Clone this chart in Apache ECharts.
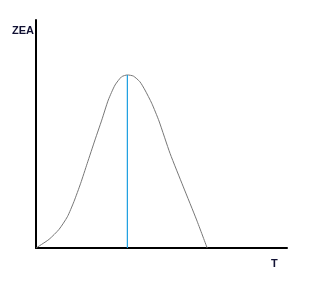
<!DOCTYPE html>
<html><head><meta charset="utf-8">
<script src="https://cdn.jsdelivr.net/npm/echarts@6/dist/echarts.min.js"></script>
<style>html,body{margin:0;padding:0;background:#fff}#c{width:322px;height:282px}</style>
</head><body><div id="c"></div>
<script>
const curveT   = [0, 0.52, 0.92, 1.25, 1.51, 1.78, 2.04, 2.35, 2.62, 2.88, 3.15, 3.41, 3.64, 3.88, 4.14, 4.34, 4.61, 4.90, 5.34, 5.87, 6.40, 6.82];
const curveZEA = [0, 0.38, 0.82, 1.37, 2.03, 2.84, 3.71, 4.74, 5.61, 6.49, 7.15, 7.51, 7.59, 7.54, 7.29, 6.93, 6.35, 5.57, 4.15, 2.68, 1.23, 0];
const peakT = 3.64;
const peakZEA = 7.59;
const yLabel = 'ZEA';
const xLabel = 'T';

const chart = echarts.init(document.getElementById('c'), null, {renderer: 'canvas'});
chart.setOption({
  animation: false,
  grid: {left: 36, right: 35, top: 20, bottom: 34},
  xAxis: {type: 'value', min: 0, max: 10, axisLine: {lineStyle: {color: '#000', width: 2}},
    axisTick: {show: false}, axisLabel: {show: false}, splitLine: {show: false}},
  yAxis: {type: 'value', min: 0, max: 10, axisLine: {show: true, lineStyle: {color: '#000', width: 2}},
    axisTick: {show: false}, axisLabel: {show: false}, splitLine: {show: false}},
  series: [
    {type: 'line', data: curveT.map((t, i) => [t, curveZEA[i]]), smooth: 0.2, showSymbol: false,
      lineStyle: {color: '#777', width: 1}},
    {type: 'line', data: [[peakT, 0], [peakT, peakZEA]], showSymbol: false,
      lineStyle: {color: '#1a9ee0', width: 1.2}}
  ],
  graphic: [
    {type: 'text', left: 12, top: 25, style: {text: yLabel, font: 'bold 11px "Liberation Sans", Arial, sans-serif', fill: '#111133'}},
    {type: 'text', left: 271, top: 258, style: {text: xLabel, font: 'bold 11px "Liberation Sans", Arial, sans-serif', fill: '#111133'}}
  ]
});
</script></body></html>
